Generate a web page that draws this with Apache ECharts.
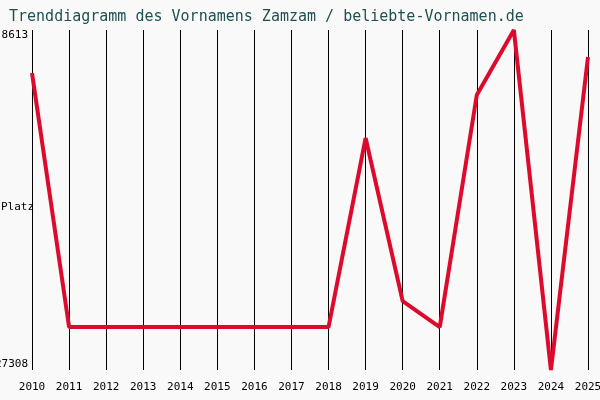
<!DOCTYPE html>
<html>
<head>
<meta charset="UTF-8">
<script src="https://cdn.jsdelivr.net/npm/echarts@6/dist/echarts.min.js"></script>
<style>
  body { margin: 0; background: #f9f9f9; }
  #main { width: 600px; height: 400px; }
</style>
</head>
<body>
<div id="main"></div>
<script>
var years = ['2010', '2011', '2012', '2013', '2014', '2015', '2016', '2017', '2018', '2019', '2020', '2021', '2022', '2023', '2024', '2025'];
var ranks = [10978, 24948, 24948, 24948, 24948, 24948, 24948, 24948, 24948, 14553, 23518, 24948, 12188, 8613, 27308, 10098];
var rankMin = 8613;
var rankMax = 27308;

var myChart = echarts.init(document.getElementById('main'));
var option = {
    backgroundColor: '#f9f9f9',
    animation: false,
    title: {
        text: 'Trenddiagramm des Vornamens Zamzam / beliebte-Vornamen.de',
        left: 4,
        top: 5,
        textStyle: { fontFamily: 'DejaVu Sans Mono', fontSize: 15, fontWeight: 'normal', color: '#1f4f4f' }
    },
    graphic: [{
        type: 'text', left: 1, top: 202,
        style: { text: 'Platz', font: '11px DejaVu Sans Mono', fill: '#000' }
    }],
    grid: { left: 32, right: 12, top: 30, bottom: 30, containLabel: false, outerBoundsMode: 'none' },
    xAxis: {
        type: 'category',
        data: years,
        boundaryGap: false,
        axisLine: { show: false },
        axisTick: { show: false },
        axisLabel: { fontFamily: 'DejaVu Sans Mono', fontSize: 11, color: '#000', margin: 12 },
        splitLine: { show: true, lineStyle: { color: '#000', width: 1 } }
    },
    yAxis: {
        type: 'value',
        inverse: true,
        min: rankMin,
        max: rankMax,
        axisLine: { show: false },
        axisTick: { show: false },
        splitLine: { show: false },
        axisLabel: {
            customValues: [rankMin, rankMax],
            formatter: function (v) { return String(v); },
            fontFamily: 'DejaVu Sans Mono', fontSize: 11, color: '#000',
            margin: 4,
            verticalAlignMinLabel: 'top',
            verticalAlignMaxLabel: 'bottom'
        }
    },
    series: [{
        type: 'line',
        data: ranks,
        showSymbol: false,
        lineStyle: { color: '#dd0a2e', width: 4 },
        clip: false
    }]
};
myChart.setOption(option);
</script>
</body>
</html>
